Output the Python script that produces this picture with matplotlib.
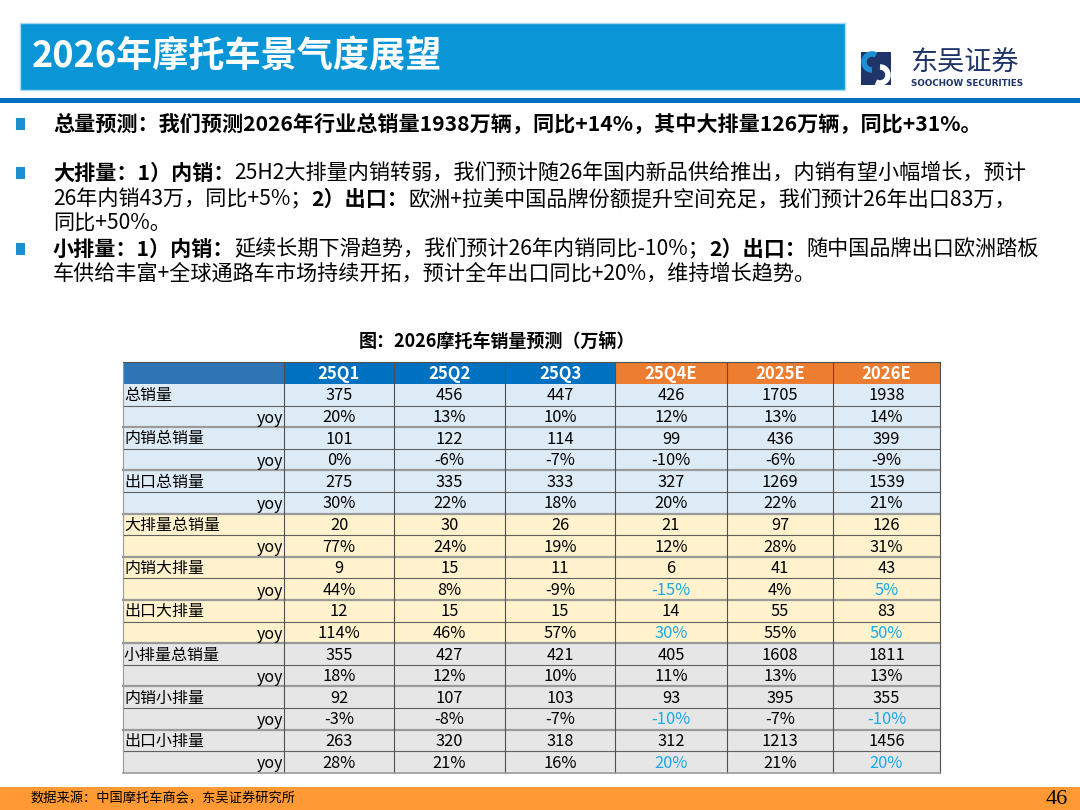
import matplotlib
matplotlib.use('Agg')
import matplotlib.pyplot as plt
from matplotlib.patches import Rectangle, Arc

plt.rcParams['font.family'] = ['Noto Sans CJK SC', 'DejaVu Sans']

# 页面文字
title = '2026年摩托车景气度展望'
table_title = '图：2026摩托车销量预测（万辆）'
source = '数据来源：中国摩托车商会，东吴证券研究所'
page_no = '46'

# 要点 (文字, 是否加粗)
bullet1 = [[('总量预测：我们预测2026年行业总销量1938万辆，同比+14%，其中大排量126万辆，同比+31%。', True)]]
bullet2 = [[('大排量：1）内销：', True), ('25H2大排量内销转弱，我们预计随26年国内新品供给推出，内销有望小幅增长，预计', False)],
           [('26年内销43万，同比+5%；', False), ('2）出口：', True), ('欧洲+拉美中国品牌份额提升空间充足，我们预计26年出口83万，', False)],
           [('同比+50%。', False)]]
bullet3 = [[('小排量：1）内销：', True), ('延续长期下滑趋势，我们预计26年内销同比-10%；', False), ('2）出口：', True), ('随中国品牌出口欧洲踏板', False)],
           [('车供给丰富+全球通路车市场持续开拓，预计全年出口同比+20%，维持增长趋势。', False)]]

# 表格数据
columns = ['25Q1', '25Q2', '25Q3', '25Q4E', '2025E', '2026E']
row_labels = ['总销量', 'yoy', '内销总销量', 'yoy', '出口总销量', 'yoy',
              '大排量总销量', 'yoy', '内销大排量', 'yoy', '出口大排量', 'yoy',
              '小排量总销量', 'yoy', '内销小排量', 'yoy', '出口小排量', 'yoy']
values = [
    ['375', '456', '447', '426', '1705', '1938'],
    ['20%', '13%', '10%', '12%', '13%', '14%'],
    ['101', '122', '114', '99', '436', '399'],
    ['0%', '-6%', '-7%', '-10%', '-6%', '-9%'],
    ['275', '335', '333', '327', '1269', '1539'],
    ['30%', '22%', '18%', '20%', '22%', '21%'],
    ['20', '30', '26', '21', '97', '126'],
    ['77%', '24%', '19%', '12%', '28%', '31%'],
    ['9', '15', '11', '6', '41', '43'],
    ['44%', '8%', '-9%', '-15%', '4%', '5%'],
    ['12', '15', '15', '14', '55', '83'],
    ['114%', '46%', '57%', '30%', '55%', '50%'],
    ['355', '427', '421', '405', '1608', '1811'],
    ['18%', '12%', '10%', '11%', '13%', '13%'],
    ['92', '107', '103', '93', '395', '355'],
    ['-3%', '-8%', '-7%', '-10%', '-7%', '-10%'],
    ['263', '320', '318', '312', '1213', '1456'],
    ['28%', '21%', '16%', '20%', '21%', '20%'],
]
# 蓝色字的单元格 (行, 列)
blue_cells = [(9, 3), (9, 5), (11, 3), (11, 5), (15, 3), (15, 5), (17, 3), (17, 5)]

fig = plt.figure(figsize=(10.8, 8.1), dpi=100)
ax = fig.add_axes([0, 0, 1, 1])
ax.set_xlim(0, 1080)
ax.set_ylim(810, 0)
ax.axis('off')
r = fig.canvas.get_renderer()

# 标题栏
ax.add_patch(Rectangle((20, 23), 825, 67, facecolor='#0A96D6', edgecolor='#A9DAF3', lw=1))
ax.text(32, 57, title, fontsize=26, fontweight='bold', color='white', va='center')
ax.add_patch(Rectangle((0, 98), 1080, 5, facecolor='#0070C0', edgecolor='none'))

# logo
ax.add_patch(Rectangle((861, 52), 30, 33, facecolor='#1F3468', edgecolor='none'))
ax.add_patch(Arc((872, 62), 16, 16, theta1=90, theta2=300, lw=4, color='#1C8FD0'))
ax.add_patch(Arc((880, 75), 16, 16, theta1=270, theta2=120, lw=4, color='white'))
ax.text(910, 63, '东吴证券', fontsize=19.5, color='#1F3468', va='center')
ax.text(911, 83.5, 'SOOCHOW SECURITIES', fontsize=6.3, fontweight='bold', color='#1F3468', va='center',
        family='DejaVu Sans')


def rich_line(x, y, parts, size=15.2):
    for s, bold in parts:
        t = ax.text(x, y, s, fontsize=size, fontweight='bold' if bold else 'normal', va='center', ha='left')
        x += t.get_window_extent(renderer=r).width


line_y = [124, 173, 199, 224, 249, 274]
i = 0
for bullet in [bullet1, bullet2, bullet3]:
    ax.add_patch(Rectangle((16, line_y[i] - 6), 9, 12, facecolor='#1B8FD0', edgecolor='none'))
    for line in bullet:
        rich_line(53, line_y[i], line)
        i += 1

# 表格
ax.text(497, 341, table_title, fontsize=13, fontweight='bold', ha='center', va='center')
edges = [123, 284, 394, 505, 615, 727, 833, 940]
top = 362
head_h = 22
row_h = 21.6
head_colors = ['#2E75B6', '#0070C0', '#0070C0', '#0070C0', '#ED7D31', '#ED7D31', '#ED7D31']
group_colors = ['#DDEBF7', '#FFF2CC', '#E7E6E6']

for j in range(7):
    ax.add_patch(Rectangle((edges[j], top), edges[j + 1] - edges[j], head_h,
                           facecolor=head_colors[j], edgecolor='none'))
    if j > 0:
        ax.text((edges[j] + edges[j + 1]) / 2, top + head_h / 2 + 1, columns[j - 1], fontsize=12,
                fontweight='bold', color='white', ha='center', va='center')

for k, lab in enumerate(row_labels):
    y0 = top + head_h + k * row_h
    ax.add_patch(Rectangle((edges[0], y0), edges[-1] - edges[0], row_h,
                           facecolor=group_colors[k // 6], edgecolor='none'))
    yc = y0 + row_h / 2 + 1
    if lab == 'yoy':
        ax.text(edges[1] - 1, yc + 1, lab, fontsize=11.5, ha='right', va='center')
    else:
        ax.text(edges[0] + 1, yc, lab, fontsize=11.5, ha='left', va='center')
    for j, v in enumerate(values[k]):
        c = '#1CA8E6' if (k, j) in blue_cells else 'black'
        ax.text((edges[j + 1] + edges[j + 2]) / 2, yc, v, fontsize=11.8, color=c, ha='center', va='center')
    # 行分隔线
    if k < len(row_labels) - 1:
        if k % 2 == 1:
            ax.plot([edges[0], edges[-1]], [y0 + row_h] * 2, color='#9A9A9A', lw=1.6)
        else:
            ax.plot([edges[0], edges[-1]], [y0 + row_h] * 2, color='#606060', lw=0.8)

bottom = top + head_h + len(row_labels) * row_h
for e in edges[1:]:
    ax.plot([e, e], [top, bottom], color='#505050', lw=0.8)
ax.plot([edges[0], edges[0]], [top, bottom], color='#9A9A9A', lw=0.8)
ax.plot([edges[0], edges[-1]], [top, top], color='#505050', lw=0.8)
ax.plot([edges[0], edges[-1]], [bottom, bottom], color='#9A9A9A', lw=1.2)

# 页脚
ax.add_patch(Rectangle((0, 787), 1080, 23, facecolor='#FF9933', edgecolor='none'))
ax.text(30, 799, source, fontsize=9.5, va='center')
ax.text(1068, 799, page_no, fontsize=16, va='center', ha='right', family='Liberation Serif')

fig.savefig('out.png', dpi=100)
